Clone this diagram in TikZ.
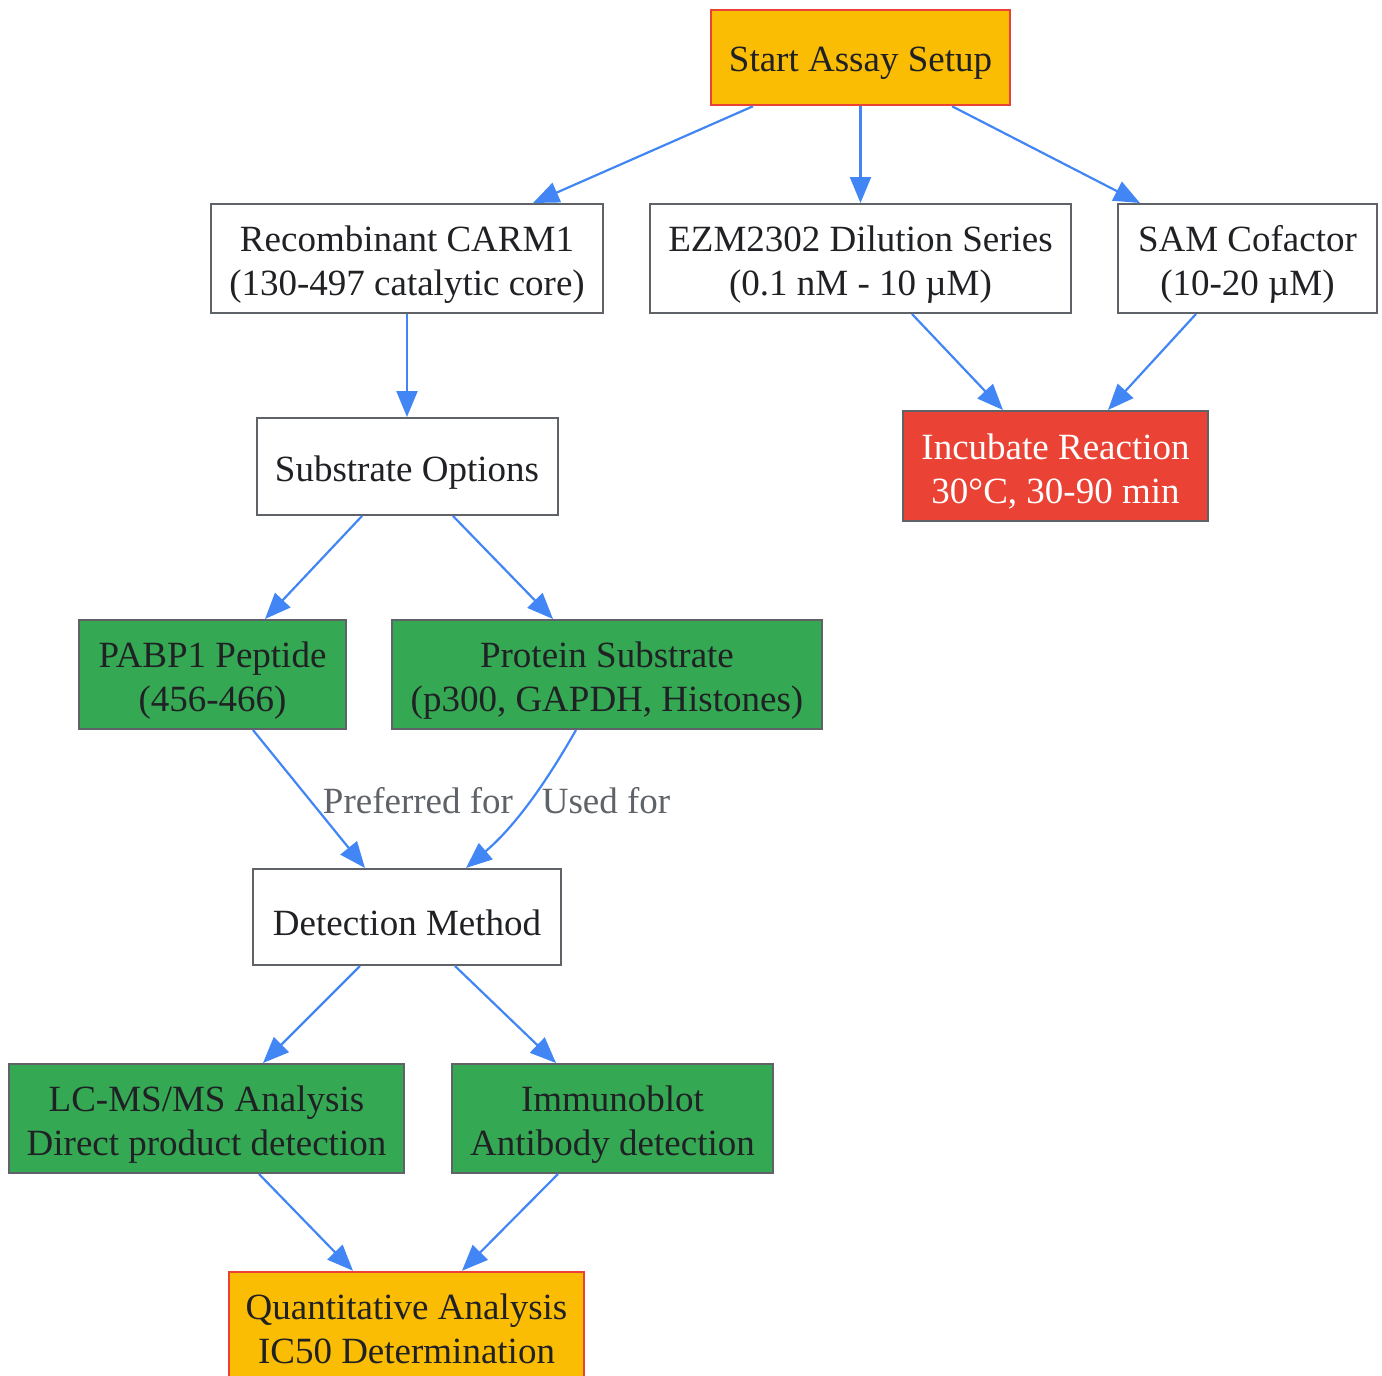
\documentclass[tikz,border=0pt]{standalone}
\usepackage{fontspec}
\setmainfont{Liberation Serif}
\usetikzlibrary{arrows.meta,calc}
\definecolor{gyellow}{HTML}{FBBC04}
\definecolor{gred}{HTML}{EA4335}
\definecolor{ggreen}{HTML}{34A853}
\definecolor{gblue}{HTML}{4285F4}
\definecolor{ggray}{HTML}{5F6368}
\definecolor{gtext}{HTML}{202124}
\tikzset{
  base/.style={draw=ggray, line width=2pt, inner sep=0pt},
  wbox/.style={base, fill=white},
  gbox/.style={base, fill=ggreen},
  ybox/.style={base, fill=gyellow, draw=gred, line width=2.5pt},
  rbox/.style={base, fill=gred},
  txt/.style={inner sep=0pt, align=center, text=gtext, yshift=-6pt,
    font=\fontsize{37}{44}\selectfont},
  wtxt/.style={txt, text=white},
  conn/.style={draw=gblue, line width=2.2pt, -{Triangle[length=26pt,width=21pt]}},
  elabel/.style={text=ggray, font=\fontsize{37}{44}\selectfont, inner sep=0pt}
}
\begin{document}
\begin{tikzpicture}[x=1pt,y=-1pt]
\useasboundingbox (0,0) rectangle (1382,1376);
\node[ybox, minimum width=299pt, minimum height=95pt, label={[txt]center:{Start Assay Setup}}] (start) at (860.5,57.5) {};
\node[wbox, minimum width=392pt, minimum height=109pt, label={[txt]center:{Recombinant CARM1\\(130-497 catalytic core)}}] (rec) at (407,258.5) {};
\node[wbox, minimum width=421pt, minimum height=109pt, label={[txt]center:{EZM2302 Dilution Series\\(0.1 nM - 10 µM)}}] (ezm) at (860.5,258.5) {};
\node[wbox, minimum width=259pt, minimum height=109pt, label={[txt]center:{SAM Cofactor\\(10-20 µM)}}] (sam) at (1247.5,258.5) {};
\node[wbox, minimum width=301pt, minimum height=97pt, label={[txt]center:{Substrate Options}}] (sub) at (407,466.5) {};
\node[rbox, minimum width=305pt, minimum height=110pt, label={[wtxt]center:{Incubate Reaction\\30°C, 30-90 min}}] (inc) at (1055.5,466) {};
\node[gbox, minimum width=267pt, minimum height=109pt, label={[txt]center:{PABP1 Peptide\\(456-466)}}] (pabp) at (212.5,674.5) {};
\node[gbox, minimum width=430pt, minimum height=109pt, label={[txt]center:{Protein Substrate\\(p300, GAPDH, Histones)}}] (prot) at (607,674.5) {};
\node[wbox, minimum width=308pt, minimum height=96pt, label={[txt]center:{Detection Method}}] (det) at (407,917) {};
\node[gbox, minimum width=395pt, minimum height=109pt, label={[txt]center:{LC-MS/MS Analysis\\Direct product detection}}] (lcms) at (206.5,1118.5) {};
\node[gbox, minimum width=321pt, minimum height=109pt, label={[txt]center:{Immunoblot\\Antibody detection}}] (immb) at (612.5,1118.5) {};
\node[ybox, minimum width=355pt, minimum height=120pt, label={[txt,yshift=9.5pt]center:{Quantitative Analysis\\IC50 Determination}}] (quant) at (406.5,1332) {};

\draw[conn] ([xshift=-107.5pt]start.south) -- ([xshift=126pt]rec.north);
\draw[conn] (start.south) -- (ezm.north);
\draw[conn] ([xshift=91.5pt]start.south) -- ([xshift=-107.5pt]sam.north);
\draw[conn] (rec.south) -- (sub.north);
\draw[conn] ([xshift=51.5pt]ezm.south) -- ([xshift=-52.5pt]inc.north);
\draw[conn] ([xshift=-51.5pt]sam.south) -- ([xshift=52.5pt]inc.north);
\draw[conn] ([xshift=-45pt]sub.south) -- ([xshift=52.5pt]pabp.north);
\draw[conn] ([xshift=46pt]sub.south) -- ([xshift=-54pt]prot.north);
\draw[conn] ([xshift=40.5pt]pabp.south) -- ([xshift=-42pt]det.north);
\draw[conn] ([xshift=-31pt]prot.south) .. controls (552,772) and (520,822) .. ([xshift=59pt]det.north);
\node[elabel] (lpref) at (418,801) {Preferred for};
\node[elabel] (lused) at (606,801) {Used for};
\draw[conn] ([xshift=-47pt]det.south) -- ([xshift=56.5pt]lcms.north);
\draw[conn] ([xshift=48pt]det.south) -- ([xshift=-56.5pt]immb.north);
\draw[conn] ([xshift=52.5pt]lcms.south) -- ([xshift=-53.5pt]quant.north);
\draw[conn] ([xshift=-54.5pt]immb.south) -- ([xshift=55.5pt]quant.north);
\end{tikzpicture}
\end{document}
